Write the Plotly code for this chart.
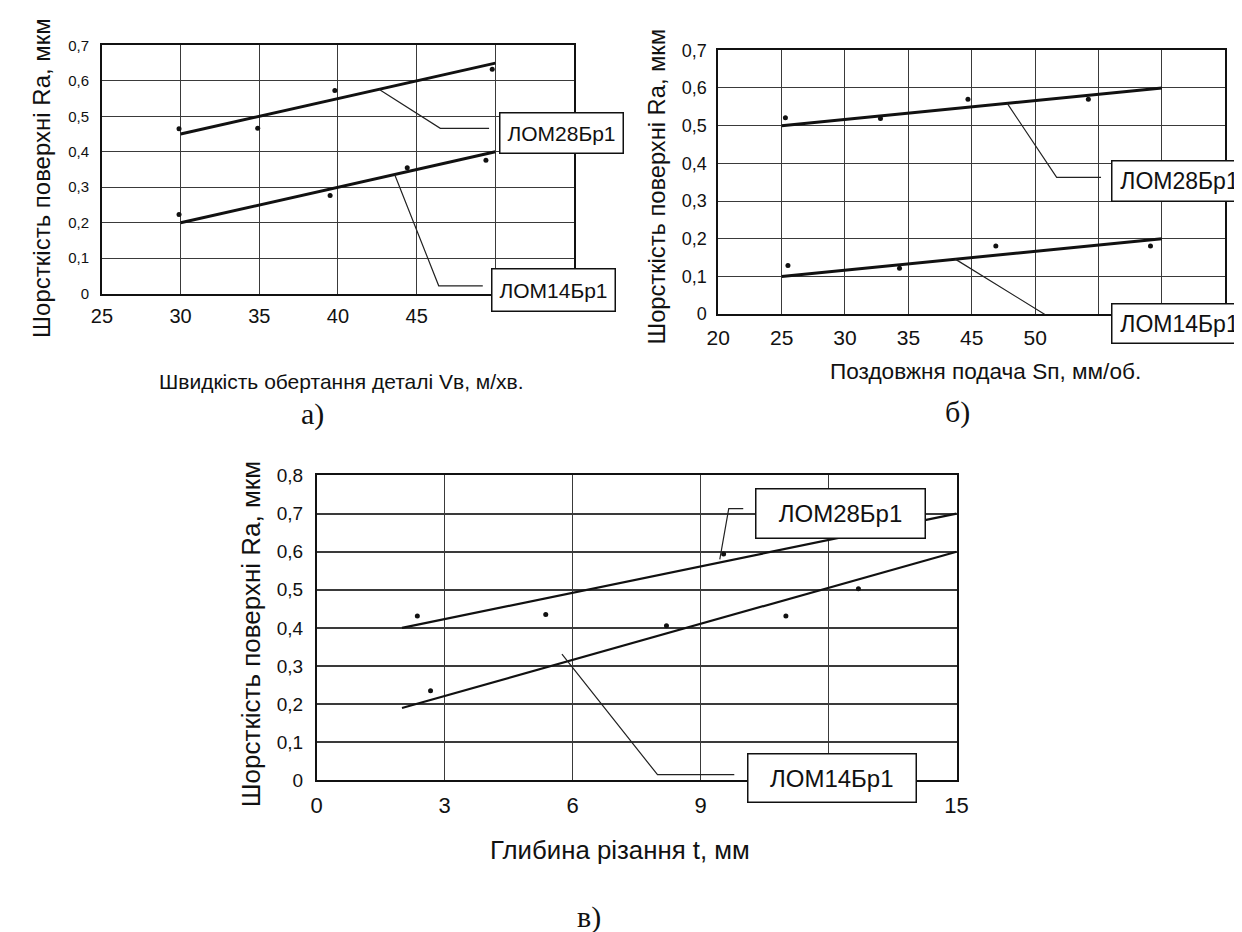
import plotly.graph_objects as go

W, H = 1242, 932

# ---------------- data ----------------
# panel a: speed of part rotation
a_x28 = [29.9, 34.9, 39.8, 49.8]
a_y28 = [0.465, 0.466, 0.573, 0.633]
a_x14 = [29.9, 39.5, 44.4, 49.4]
a_y14 = [0.223, 0.277, 0.355, 0.376]
a_fit_x = [30, 50]
a_fit28 = [0.45, 0.65]
a_fit14 = [0.20, 0.40]
a_xticks = [25, 30, 35, 40, 45, 50, 55]
a_xlabels = ["25", "30", "35", "40", "45", "", ""]

# panel b: longitudinal feed
b_x28 = [25.3, 32.8, 39.7, 49.2]
b_y28 = [0.521, 0.519, 0.570, 0.570]
b_x14 = [25.5, 34.3, 41.9, 54.1]
b_y14 = [0.129, 0.122, 0.181, 0.181]
b_fit_x = [25, 55]
b_fit28 = [0.50, 0.60]
b_fit14 = [0.10, 0.20]
b_xticks = [20, 25, 30, 35, 40, 45, 50, 55, 60]
b_xlabels = ["20", "25", "30", "35", "45", "50", "", "", ""]

# panel c: cutting depth
c_x28 = [2.36, 5.37, 9.54]
c_y28 = [0.431, 0.435, 0.594]
c_x14 = [2.67, 8.2, 11.0, 12.7]
c_y14 = [0.235, 0.406, 0.431, 0.503]
c_fit_x = [2.0, 15.0]
c_fit28 = [0.40, 0.70]
c_fit14 = [0.19, 0.60]
c_xticks = [0, 3, 6, 9, 12, 15]
c_xlabels = ["0", "3", "6", "9", "", "15"]

y7_ticks = [0, 0.1, 0.2, 0.3, 0.4, 0.5, 0.6, 0.7]
y7_labels = ["0", "0,1", "0,2", "0,3", "0,4", "0,5", "0,6", "0,7"]
y8_ticks = y7_ticks + [0.8]
y8_labels = y7_labels + ["0,8"]

name28 = "ЛОМ28Бр1"
name14 = "ЛОМ14Бр1"
ytitle = "Шорсткість поверхні Ra, мкм"
xtitle_a = "Швидкість обертання деталі Vв, м/хв."
xtitle_b = "Поздовжня подача Sп, мм/об."
xtitle_c = "Глибина різання t, мм"

# ---------------- layout helpers ----------------
def px(x):
    return x / W

def py(y):
    return 1 - y / H

SANS = "Liberation Sans, Arial, sans-serif"
SERIF = "Liberation Serif, Times New Roman, serif"
INK = "#111111"
GRID = "#3a3a3a"

fig = go.Figure()

panels = [
    ("", a_x28, a_y28, a_x14, a_y14, a_fit_x, a_fit28, a_fit14, 3),
    ("2", b_x28, b_y28, b_x14, b_y14, b_fit_x, b_fit28, b_fit14, 3),
    ("3", c_x28, c_y28, c_x14, c_y14, c_fit_x, c_fit28, c_fit14, 2.2),
]
for suf, x28, y28, x14, y14, fx, f28, f14, lw in panels:
    xa, ya = "x" + suf, "y" + suf
    fig.add_trace(go.Scatter(x=fx, y=f28, mode="lines", line=dict(color=INK, width=lw),
                             xaxis=xa, yaxis=ya, showlegend=False, name=name28))
    fig.add_trace(go.Scatter(x=fx, y=f14, mode="lines", line=dict(color=INK, width=lw),
                             xaxis=xa, yaxis=ya, showlegend=False, name=name14))
    fig.add_trace(go.Scatter(x=x28, y=y28, mode="markers", marker=dict(color=INK, size=5),
                             xaxis=xa, yaxis=ya, showlegend=False, name=name28))
    fig.add_trace(go.Scatter(x=x14, y=y14, mode="markers", marker=dict(color=INK, size=5),
                             xaxis=xa, yaxis=ya, showlegend=False, name=name14))

# leader lines (label callouts), in axis coordinates
leaders = [
    ("x", "y", [42.6, 46.5, 49.6], [0.576, 0.466, 0.466]),
    ("x", "y", [43.6, 46.4, 49.2], [0.336, 0.022, 0.022]),
    ("x2", "y2", [42.8, 46.7, 50.2], [0.559, 0.363, 0.363]),
    ("x2", "y2", [38.7, 46.5, 50.2], [0.146, -0.016, -0.016]),
    ("x3", "y3", [9.45, 9.66, 10.0], [0.58, 0.713, 0.713]),
    ("x3", "y3", [5.75, 7.99, 9.79], [0.331, 0.015, 0.015]),
]
for xr, yr, lx, ly in leaders:
    path = "M %s,%s L %s,%s L %s,%s" % (lx[0], ly[0], lx[1], ly[1], lx[2], ly[2])
    fig.add_shape(type="path", path=path, xref=xr, yref=yr,
                  line=dict(color="#222222", width=1.2), layer="above")

def axis_common(gw=1.3):
    return dict(showgrid=True, gridcolor=GRID, gridwidth=gw, zeroline=False,
                showline=True, linecolor=INK, linewidth=1.6, mirror=True,
                ticks="", color=INK)

fig.update_layout(
    width=W, height=H, margin=dict(l=0, r=0, t=0, b=0),
    paper_bgcolor="white", plot_bgcolor="white",
    font=dict(family=SANS, color=INK),
    xaxis=dict(domain=[px(83.5), px(565)], range=[25, 55], anchor="y",
               tickvals=a_xticks, ticktext=a_xlabels, tickfont=dict(size=20),
               ticklabelstandoff=4, **axis_common()),
    yaxis=dict(domain=[py(282), py(28)], range=[0, 0.7], anchor="x",
               tickvals=y7_ticks, ticktext=y7_labels, tickfont=dict(size=15),
               ticklabelstandoff=8, **axis_common()),
    xaxis2=dict(domain=[px(712), px(1229)], range=[20, 60], anchor="y2",
                tickvals=b_xticks, ticktext=b_xlabels, tickfont=dict(size=21),
                ticklabelstandoff=4, **axis_common()),
    yaxis2=dict(domain=[py(303), py(33)], range=[0, 0.7], anchor="x2",
                tickvals=y7_ticks, ticktext=y7_labels, tickfont=dict(size=18),
                ticklabelstandoff=6, **axis_common()),
    xaxis3=dict(domain=[px(302.5), px(955)], range=[0, 15], anchor="y3",
                tickvals=c_xticks, ticktext=c_xlabels, tickfont=dict(size=22),
                ticklabelstandoff=4, **axis_common()),
    yaxis3=dict(domain=[py(780), py(468)], range=[0, 0.8], anchor="x3",
                tickvals=y8_ticks, ticktext=y8_labels, tickfont=dict(size=19),
                ticklabelstandoff=8, **axis_common(2.2)),
)

annotations = []
def text(t, x, y, size, family=SANS, angle=0):
    annotations.append(dict(text=t, x=px(x), y=py(y), xref="paper", yref="paper",
                            showarrow=False, xanchor="center", yanchor="middle",
                            textangle=angle, font=dict(size=size, family=family, color=INK)))

def box(t, x0, x1, y0, y1, size):
    annotations.append(dict(text=t, x=px((x0 + x1) / 2), y=py((y0 + y1) / 2),
                            xref="paper", yref="paper", showarrow=False,
                            xanchor="center", yanchor="middle",
                            width=x1 - x0 - 2, height=y1 - y0 - 2, borderpad=0,
                            bgcolor="white", bordercolor=INK, borderwidth=1.5,
                            font=dict(size=size, family=SANS, color=INK)))

# axis titles
text(ytitle, 22, 164, 24, angle=-90)
text(ytitle, 650, 172, 23.7, angle=-90)
text(ytitle, 235, 630, 26, angle=-90)
text(xtitle_a, 328, 372, 21)
text(xtitle_b, 985, 362, 22.6)
text(xtitle_c, 612, 851, 25.8)
# panel letters
text("а)", 298, 405, 30, SERIF)
text("б)", 956, 403, 30, SERIF)
text("в)", 580, 920, 30, SERIF)
# series label boxes
box(name28, 490, 614, 97, 138, 21)
box(name14, 482, 606, 257, 300, 21)
box(name28, 1114, 1250, 146, 187, 23)
box(name14, 1114, 1250, 293, 333, 23)
box(name28, 751.5, 921.5, 482, 532, 24)
box(name14, 744, 912.5, 753, 802, 24)

fig.update_layout(annotations=annotations)
fig.write_html("out.html")
